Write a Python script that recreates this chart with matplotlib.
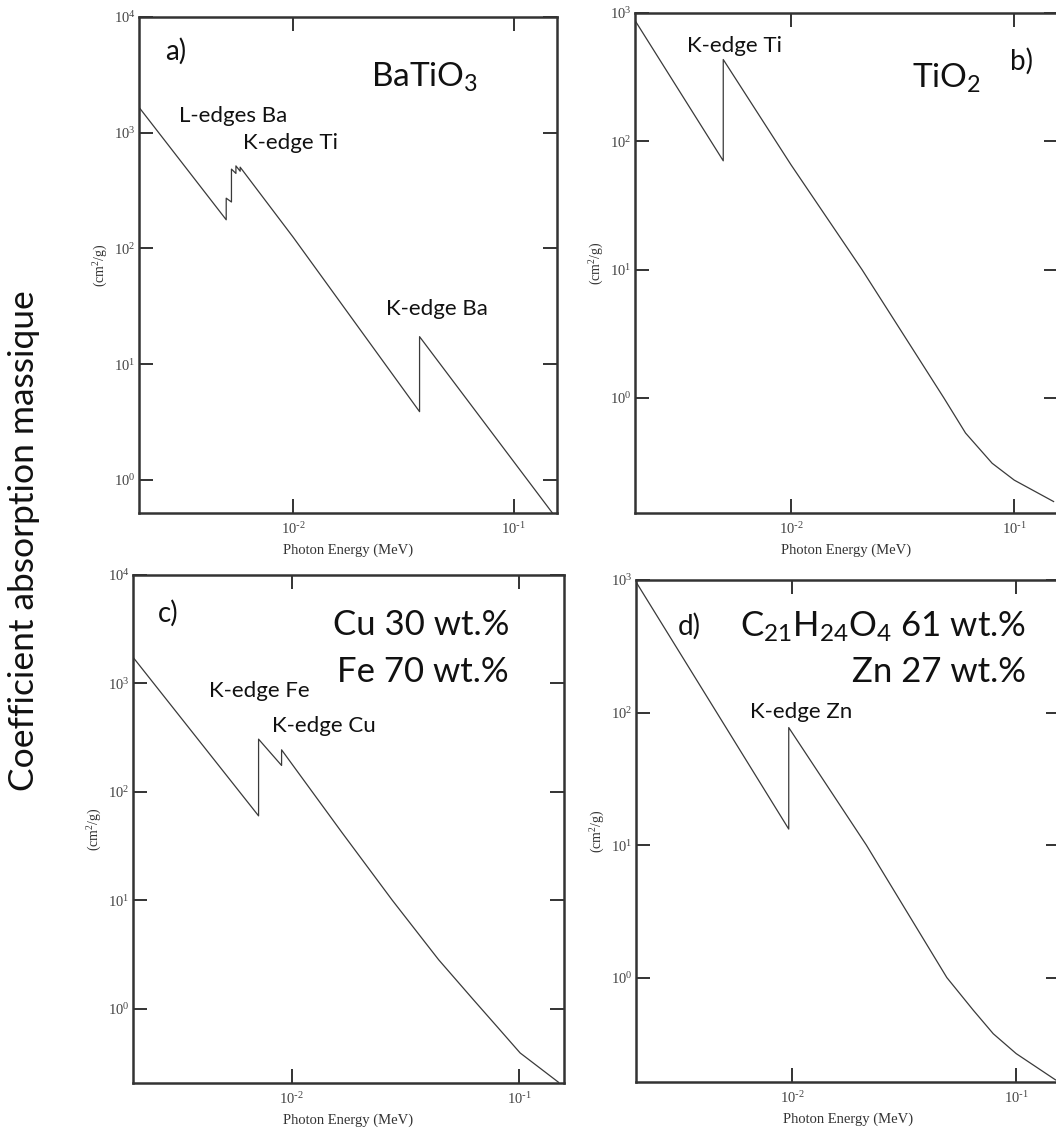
import numpy as np
import matplotlib
matplotlib.use("Agg")
import matplotlib.pyplot as plt
from matplotlib.ticker import NullLocator

# photon energy (MeV) and mass attenuation (cm2/g)
E_bto = [0.002, 0.00497, 0.00497, 0.00525, 0.00525, 0.0055, 0.0055, 0.00575, 0.00575,
         0.01, 0.0374, 0.0374, 0.15]
mu_bto = [1660, 177, 272, 252, 485, 445, 517, 465, 504, 125, 3.89, 17.3, 0.515]

E_tio2 = [0.002, 0.00497, 0.00497, 0.01, 0.0208, 0.0484, 0.0605, 0.0796, 0.1, 0.15]
mu_tio2 = [875, 70.5, 434, 65.6, 10, 1.0, 0.533, 0.31, 0.229, 0.156]

E_cufe = [0.002, 0.00713, 0.00713, 0.009, 0.009, 0.0166, 0.0276, 0.0441, 0.0627,
          0.0795, 0.1007, 0.1486]
mu_cufe = [1745, 60, 306, 175, 244, 42, 10, 2.83, 1.21, 0.687, 0.39, 0.209]

E_zn = [0.002, 0.00963, 0.00963, 0.0214, 0.049, 0.0644, 0.079, 0.1, 0.15]
mu_zn = [968, 13.2, 77, 10, 1.0, 0.566, 0.377, 0.267, 0.169]

x_exps = [-2, -1]
xlim = (0.002, 0.157)

W, H = 1056, 1128
plt.rcParams['font.family'] = 'Liberation Serif'
plt.rcParams['axes.unicode_minus'] = False
SANS = 'Lato'
INK = '#333333'

fig = plt.figure(figsize=(W / 100, H / 100), dpi=100)


def px_axes(l, r, t, b):
    return fig.add_axes([l / W, 1 - b / H, (r - l) / W, (b - t) / H])


def ftext(x, y, s, size, ha='left', va='baseline'):
    fig.text(x / W, 1 - y / H, s, fontsize=size, family=SANS, ha=ha, va=va, color='#111111')


def pow10(e):
    # short hyphen in the exponent, like the original program output
    sign = '\\text{-}' if e < 0 else ''
    return '$\\mathregular{10^{%s%d}}$' % (sign, abs(e))


def panel(ax, E, mu, ylim, y_exps, wpx, hpx):
    ax.plot(E, mu, color='#3a3a3a', lw=0.9)
    ax.set_xscale('log')
    ax.set_yscale('log')
    ax.set_xlim(*xlim)
    ax.set_ylim(*ylim)
    ax.set_xticks([10.0 ** e for e in x_exps])
    ax.set_xticklabels([pow10(e) for e in x_exps])
    ax.set_yticks([10.0 ** e for e in y_exps])
    ax.set_yticklabels([pow10(e) for e in y_exps])
    ax.xaxis.set_minor_locator(NullLocator())
    ax.yaxis.set_minor_locator(NullLocator())
    ax.tick_params(direction='in', top=True, right=True, length=10, width=1.4,
                   color=INK, labelsize=10.5, labelcolor='#444444')
    ax.tick_params(axis='x', pad=6)
    ax.tick_params(axis='y', pad=2.5)
    for s in ax.spines.values():
        s.set_linewidth(1.8)
        s.set_color(INK)
    ax.set_xlabel('Photon Energy (MeV)', fontsize=10.5, color=INK, va='center')
    ax.xaxis.set_label_coords(0.5, -37 / hpx)
    ax.set_ylabel('(cm$\\mathregular{^2}$/g)', fontsize=10, color=INK, va='center')
    ax.yaxis.set_label_coords(-38 / wpx, 0.5)


ax_a = px_axes(139, 557, 17, 513)
panel(ax_a, E_bto, mu_bto, (0.518, 1e4), [0, 1, 2, 3, 4], 418, 496)
ax_b = px_axes(635, 1058, 13, 513)
panel(ax_b, E_tio2, mu_tio2, (0.127, 1e3), [0, 1, 2, 3], 423, 500)
ax_c = px_axes(133, 564, 575, 1083)
panel(ax_c, E_cufe, mu_cufe, (0.206, 1e4), [0, 1, 2, 3, 4], 431, 508)
ax_d = px_axes(636, 1060, 580, 1082)
panel(ax_d, E_zn, mu_zn, (0.163, 1e3), [0, 1, 2, 3], 424, 502)

# panel a
ftext(165, 60, 'a)', 20)
ftext(371, 87, 'BaTiO$\\mathregular{_3}$', 24)
ftext(179, 122, 'L-edges Ba', 16)
ftext(243, 149, 'K-edge Ti', 16)
ftext(386, 315, 'K-edge Ba', 16)

# panel b
ftext(1010, 70, 'b)', 20)
ftext(912, 88, 'TiO$\\mathregular{_2}$', 24)
ftext(687, 52, 'K-edge Ti', 16)

# panel c
ftext(158, 622, 'c)', 20)
ftext(509, 635, 'Cu 30 wt.%', 25, ha='right')
ftext(509, 682, 'Fe 70 wt.%', 25, ha='right')
ftext(209, 697, 'K-edge Fe', 16)
ftext(272, 732, 'K-edge Cu', 16)

# panel d
ftext(678, 635, 'd)', 20)
ftext(1026, 637, 'C$\\mathregular{_{21}}$H$\\mathregular{_{24}}$O$\\mathregular{_4}$ 61 wt.%', 25, ha='right')
ftext(1026, 682, 'Zn 27 wt.%', 25, ha='right')
ftext(750, 718, 'K-edge Zn', 16)

fig.text(24 / W, 1 - 541 / H, 'Coefficient absorption massique', rotation=90,
         fontsize=25.5, family=SANS, ha='center', va='center', color='#111111')

fig.savefig('out.png', dpi=100)
